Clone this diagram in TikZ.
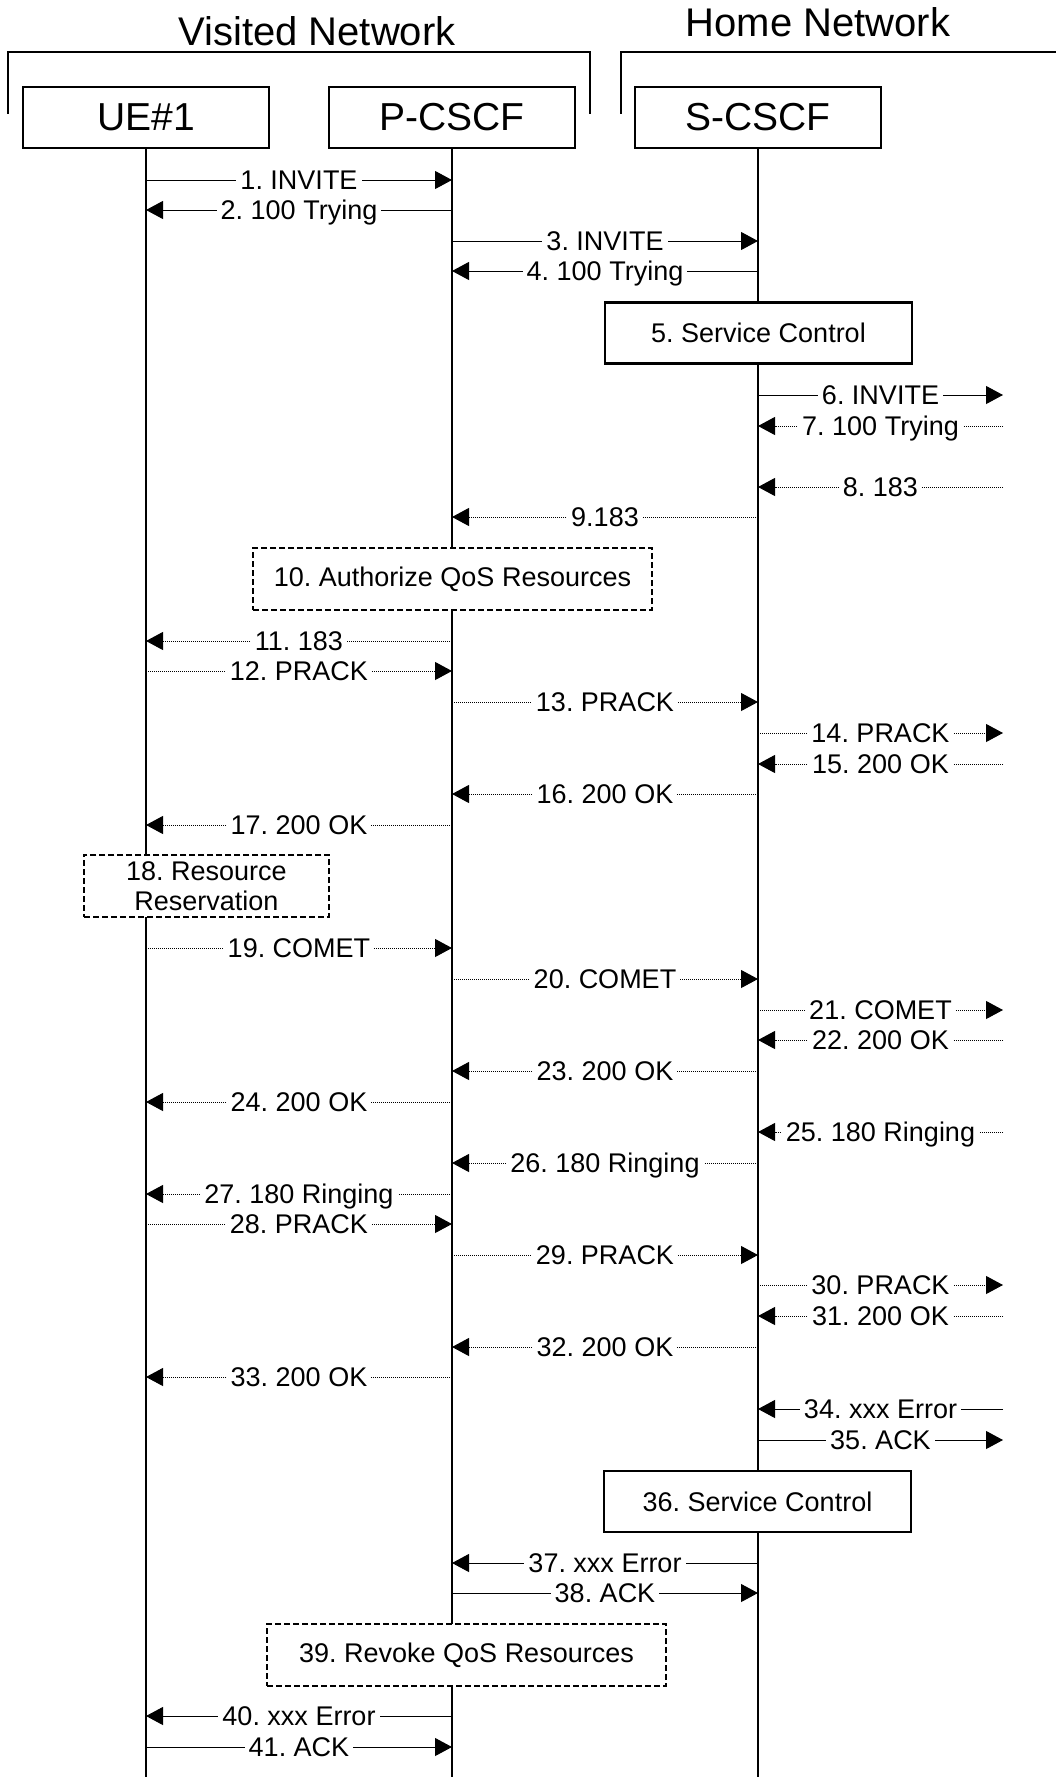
\documentclass[tikz,border=0pt]{standalone}
\usepackage{fontspec}
\setmainfont{Liberation Sans}
\usetikzlibrary{arrows.meta}
\frenchspacing
\tikzstyle{entity} = [rectangle, minimum width=123pt, minimum height=30.5pt, text centered, draw=black, line width=1pt, font=\fontsize{19.5}{23}\selectfont]
\tikzstyle{ctrlbox} = [rectangle, minimum width=153.5pt, minimum height=30.5pt, text centered, draw=black, fill=white, line width=1.1pt, font=\fontsize{13.5}{15}\selectfont]
\tikzstyle{dashbox} = [rectangle, minimum width=199.5pt, minimum height=31pt, text centered, draw=black, fill=white, line width=1pt, dash pattern=on 3pt off 1.5pt, font=\fontsize{13.5}{15}\selectfont]
\tikzstyle{lifeline} = [line width=1pt]
\tikzstyle{arrow} = [line width=0.5pt, -{Triangle[length=8.5pt, width=9pt]}]
\tikzstyle{dotarrow} = [arrow, dash pattern=on 0.5pt off 0.5pt]
\tikzstyle{msg} = [fill=white, inner xsep=2pt, inner ysep=1pt, text height=9.7pt, text depth=0pt, font=\fontsize{13.5}{15}\selectfont]

\begin{document}
\begin{tikzpicture}[x=0.5pt, y=-0.5pt, node distance=153pt]
\useasboundingbox (0,0) rectangle (1056,1777);

% networks
\node (visited) [anchor=base, font=\fontsize{20}{24}\selectfont] at (317,46) {Visited Network};
\node (home) [anchor=base, font=\fontsize{20}{24}\selectfont] at (818,37) {Home Network};
\draw [line width=1pt] (8,114) -- (8,52) -- (590,52) -- (590,114);
\draw [line width=1pt] (621,114) -- (621,52) -- (1056,52);

% entities
\node (ue) [entity] at (146,117.5) {UE\#1};
\node (pcscf) [entity, right of=ue] {P-CSCF};
\node (scscf) [entity, right of=pcscf] {S-CSCF};
\coordinate (bottom) at (0,1777);
\coordinate (ext) at (1003,0);

\draw [lifeline] (ue) -- (ue |- bottom);
\draw [lifeline] (pcscf) -- (pcscf |- bottom);
\draw [lifeline] (scscf) -- (scscf |- bottom);

% message rows
\coordinate (m1) at (0,180);   \coordinate (m2) at (0,210);   \coordinate (m3) at (0,241);
\coordinate (m4) at (0,271);   \coordinate (m6) at (0,395);   \coordinate (m7) at (0,426);
\coordinate (m8) at (0,487);   \coordinate (m9) at (0,517);   \coordinate (m11) at (0,641);
\coordinate (m12) at (0,671);  \coordinate (m13) at (0,702);  \coordinate (m14) at (0,733);
\coordinate (m15) at (0,764);  \coordinate (m16) at (0,794);  \coordinate (m17) at (0,825);
\coordinate (m19) at (0,948);  \coordinate (m20) at (0,979);  \coordinate (m21) at (0,1010);
\coordinate (m22) at (0,1040); \coordinate (m23) at (0,1071); \coordinate (m24) at (0,1102);
\coordinate (m25) at (0,1132); \coordinate (m26) at (0,1163); \coordinate (m27) at (0,1194);
\coordinate (m28) at (0,1224); \coordinate (m29) at (0,1255); \coordinate (m30) at (0,1285);
\coordinate (m31) at (0,1316); \coordinate (m32) at (0,1347); \coordinate (m33) at (0,1377);
\coordinate (m34) at (0,1409); \coordinate (m35) at (0,1440); \coordinate (m37) at (0,1563);
\coordinate (m38) at (0,1593); \coordinate (m40) at (0,1716); \coordinate (m41) at (0,1747);

% boxes
\node (control1) [ctrlbox] at (758.5,333) {5. Service Control};
\node (authorize) [dashbox] at (452.5,579) {10. Authorize QoS Resources};
\node (reserve) [dashbox, minimum width=122.5pt, align=center] at (206.5,886) {18. Resource\\Reservation};
\node (control2) [ctrlbox] at (757.5,1501.5) {36. Service Control};
\node (revoke) [dashbox] at (466.5,1655) {39. Revoke QoS Resources};

% messages
\draw [arrow] (ue |- m1) -- node [msg] {1. INVITE} (pcscf |- m1);
\draw [arrow] (pcscf |- m2) -- node [msg] {2. 100 Trying} (ue |- m2);
\draw [arrow] (pcscf |- m3) -- node [msg] {3. INVITE} (scscf |- m3);
\draw [arrow] (scscf |- m4) -- node [msg] {4. 100 Trying} (pcscf |- m4);
\draw [arrow] (scscf |- m6) -- node [msg] {6. INVITE} (ext |- m6);
\draw [dotarrow] (ext |- m7) -- node [msg] {7. 100 Trying} (scscf |- m7);
\draw [dotarrow] (ext |- m8) -- node [msg] {8. 183} (scscf |- m8);
\draw [dotarrow] (scscf |- m9) -- node [msg] {9.183} (pcscf |- m9);
\draw [dotarrow] (pcscf |- m11) -- node [msg] {11. 183} (ue |- m11);
\draw [dotarrow] (ue |- m12) -- node [msg] {12. PRACK} (pcscf |- m12);
\draw [dotarrow] (pcscf |- m13) -- node [msg] {13. PRACK} (scscf |- m13);
\draw [dotarrow] (scscf |- m14) -- node [msg] {14. PRACK} (ext |- m14);
\draw [dotarrow] (ext |- m15) -- node [msg] {15. 200 OK} (scscf |- m15);
\draw [dotarrow] (scscf |- m16) -- node [msg] {16. 200 OK} (pcscf |- m16);
\draw [dotarrow] (pcscf |- m17) -- node [msg] {17. 200 OK} (ue |- m17);
\draw [dotarrow] (ue |- m19) -- node [msg] {19. COMET} (pcscf |- m19);
\draw [dotarrow] (pcscf |- m20) -- node [msg] {20. COMET} (scscf |- m20);
\draw [dotarrow] (scscf |- m21) -- node [msg] {21. COMET} (ext |- m21);
\draw [dotarrow] (ext |- m22) -- node [msg] {22. 200 OK} (scscf |- m22);
\draw [dotarrow] (scscf |- m23) -- node [msg] {23. 200 OK} (pcscf |- m23);
\draw [dotarrow] (pcscf |- m24) -- node [msg] {24. 200 OK} (ue |- m24);
\draw [dotarrow] (ext |- m25) -- node [msg] {25. 180 Ringing} (scscf |- m25);
\draw [dotarrow] (scscf |- m26) -- node [msg] {26. 180 Ringing} (pcscf |- m26);
\draw [dotarrow] (pcscf |- m27) -- node [msg] {27. 180 Ringing} (ue |- m27);
\draw [dotarrow] (ue |- m28) -- node [msg] {28. PRACK} (pcscf |- m28);
\draw [dotarrow] (pcscf |- m29) -- node [msg] {29. PRACK} (scscf |- m29);
\draw [dotarrow] (scscf |- m30) -- node [msg] {30. PRACK} (ext |- m30);
\draw [dotarrow] (ext |- m31) -- node [msg] {31. 200 OK} (scscf |- m31);
\draw [dotarrow] (scscf |- m32) -- node [msg] {32. 200 OK} (pcscf |- m32);
\draw [dotarrow] (pcscf |- m33) -- node [msg] {33. 200 OK} (ue |- m33);
\draw [arrow] (ext |- m34) -- node [msg] {34. xxx Error} (scscf |- m34);
\draw [arrow] (scscf |- m35) -- node [msg] {35. ACK} (ext |- m35);
\draw [arrow] (scscf |- m37) -- node [msg] {37. xxx Error} (pcscf |- m37);
\draw [arrow] (pcscf |- m38) -- node [msg] {38. ACK} (scscf |- m38);
\draw [arrow] (pcscf |- m40) -- node [msg] {40. xxx Error} (ue |- m40);
\draw [arrow] (ue |- m41) -- node [msg] {41. ACK} (pcscf |- m41);

\end{tikzpicture}
\end{document}
